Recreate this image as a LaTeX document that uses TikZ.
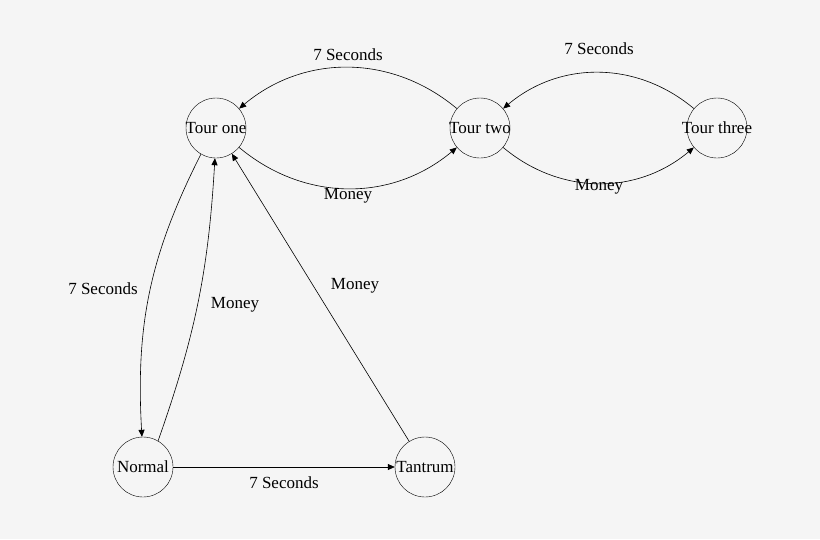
\documentclass[tikz,border=0pt]{standalone}
\usepackage{fontspec}
\setmainfont{Liberation Serif}
\usetikzlibrary{arrows.meta}
\begin{document}
\begin{tikzpicture}[x=1pt,y=-1pt,
  st/.style={circle,draw,minimum size=60pt,inner sep=0pt},
  ed/.style={draw,-{Triangle[length=7pt,width=6pt]},line width=0.6pt},
  lb/.style={font=\fontsize{17}{20}\selectfont}]
\fill[black!4] (0,0) rectangle (820,539);
\useasboundingbox (0,0) rectangle (820,539);
\node[st] (t1) at (216,128) {};
\node[st] (t2) at (480,128) {};
\node[st] (t3) at (717,128) {};
\node[st] (n) at (143,467) {};
\node[st] (ta) at (425,467) {};
\node[lb] at (t1) {Tour one};
\node[lb] at (t2) {Tour two};
\node[lb] at (t3) {Tour three};
\node[lb] at (n) {Normal};
\node[lb] at (ta) {Tantrum};
\draw[ed] (t2) to[bend right=40] (t1);
\draw[ed] (t1) to[bend right=40] (t2);
\draw[ed] (t3) to[bend right=40] (t2);
\draw[ed] (t2) to[bend right=40] (t3);
\draw[ed] (t1.240) to[bend right=15] (n.92);
\draw[ed] (n.60) to[bend right=8] (t1.268);
\draw[ed] (ta) -- (t1);
\draw[ed] (n) -- (ta);
\node[lb] at (348,55) {7 Seconds};
\node[lb] at (348,196) {Money};
\node[lb] at (599,49) {7 Seconds};
\node[lb] at (599,187) {Money};
\node[lb] at (103,289) {7 Seconds};
\node[lb] at (235,305) {Money};
\node[lb] at (355,286) {Money};
\node[lb] at (284,483) {7 Seconds};
\end{tikzpicture}
\end{document}
